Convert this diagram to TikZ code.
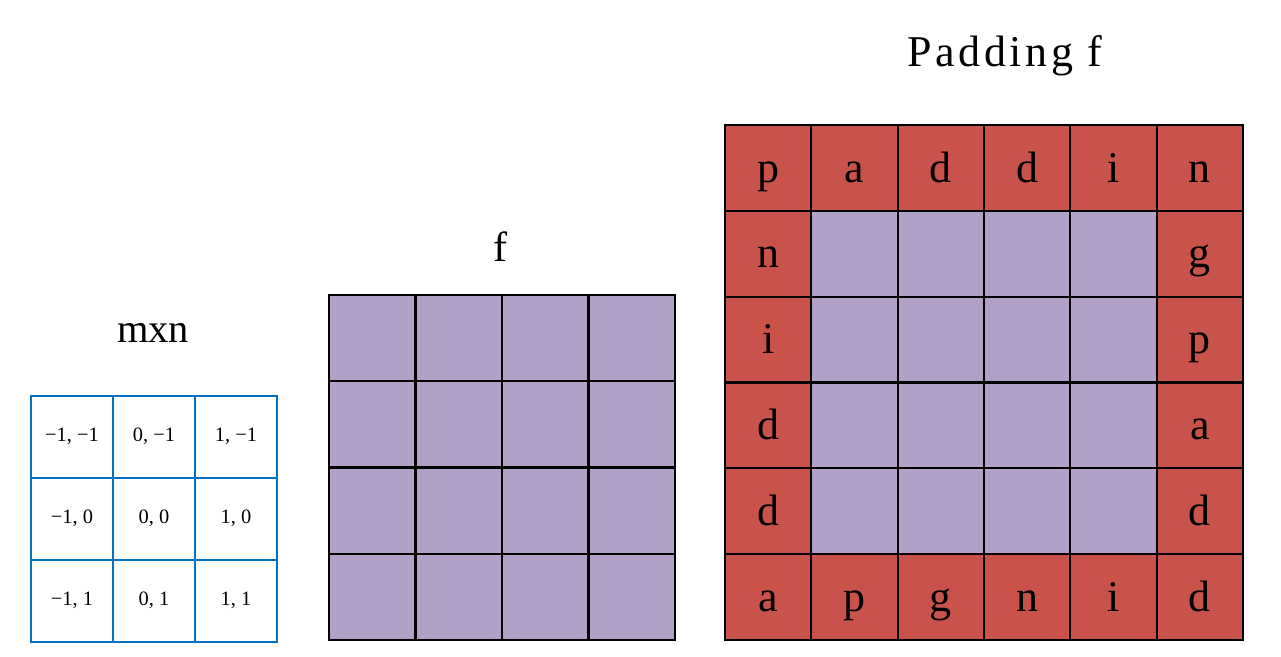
\documentclass[tikz,border=0pt]{standalone}
\usepackage{fontspec}
\setmainfont{Liberation Serif}
\newfontfamily\spacedfont[LetterSpace=8]{Liberation Serif}
\definecolor{kblue}{HTML}{0070C0}
\definecolor{lpurple}{HTML}{B1A0C7}
\definecolor{pred}{HTML}{C9534A}
\begin{document}
\begin{tikzpicture}[x=0.01cm,y=-0.01cm,
  kcell/.style={draw=kblue,line width=0.65pt,minimum width=0.82cm,minimum height=0.82cm,inner sep=0pt,text height=3.6pt,text depth=0.8pt,font=\fontsize{5.8}{7}\selectfont},
  fcell/.style={draw=black,fill=lpurple,line width=0.6pt,minimum width=0.865cm,minimum height=0.865cm,inner sep=0pt},
  pcell/.style={draw=black,fill=lpurple,line width=0.6pt,minimum width=0.8633cm,minimum height=0.8583cm,inner sep=0pt,text height=9pt,text depth=1pt,font=\fontsize{12.5}{14}\selectfont},
  rcell/.style={pcell,fill=pred},
  title/.style={font=\fontsize{12}{14}\selectfont,inner sep=0pt}]
\useasboundingbox (0,0) rectangle (1281,656);
% kernel grid
\foreach \r/\c/\t in {0/0/{−1, −1},0/1/{0, −1},0/2/{1, −1},
                      1/0/{−1, 0},1/1/{0, 0},1/2/{1, 0},
                      2/0/{−1, 1},2/1/{0, 1},2/2/{1, 1}}{
  \node[kcell] (k\r\c) at ({72+82*\c},{437+82*\r}) {\t};
}
\node[title,font=\fontsize{11.5}{14}\selectfont] (tk) at (153,333) {mxn};
% f grid
\foreach \r in {0,...,3}{\foreach \c in {0,...,3}{
  \node[fcell] (f\r\c) at ({329+43.25+86.5*\c},{295+43.25+86.25*\r}) {};
}}
\node[title] (tf) at (501,247) {f};
% padding grid
\foreach \r in {1,...,4}{\foreach \c in {1,...,4}{
  \node[pcell] (p\r\c) at ({725+43.17+86.33*\c},{125+42.92+85.83*\r}) {};
}}
\foreach \r/\c/\t in {0/0/p,0/1/a,0/2/d,0/3/d,0/4/i,0/5/n,
                      1/0/n,2/0/i,3/0/d,4/0/d,
                      1/5/g,2/5/p,3/5/a,4/5/d,
                      5/0/a,5/1/p,5/2/g,5/3/n,5/4/i,5/5/d}{
  \node[rcell] (p\r\c) at ({725+43.17+86.33*\c},{125+42.92+85.83*\r}) {\t};
}
\node[title,font=\spacedfont\fontsize{12.5}{15}\selectfont] (tp) at (1005,56) {Padding f};
\end{tikzpicture}
\end{document}
